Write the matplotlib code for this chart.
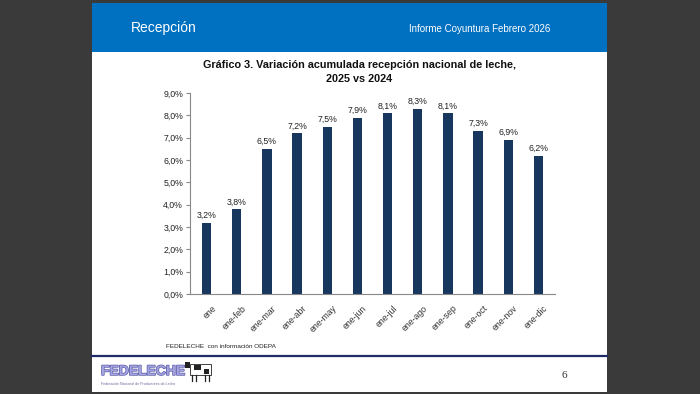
import matplotlib.pyplot as plt
import matplotlib.patches as patches
import matplotlib.patheffects as pe
import matplotlib.transforms as mtransforms

plt.rcParams['font.family'] = ['Liberation Sans', 'DejaVu Sans']

# data
periods = ["ene", "ene-feb", "ene-mar", "ene-abr", "ene-may", "ene-jun",
           "ene-jul", "ene-ago", "ene-sep", "ene-oct", "ene-nov", "ene-dic"]
variation = [3.2, 3.8, 6.5, 7.2, 7.5, 7.9, 8.1, 8.3, 8.1, 7.3, 6.9, 6.2]
y_ticks = [0, 1, 2, 3, 4, 5, 6, 7, 8, 9]

W, H = 700, 394
fig = plt.figure(figsize=(7, 3.94), dpi=100)
fig.patch.set_facecolor("#3a3a3a")


def fx(px):
    return px / W


def fy(py):
    return 1 - py / H


# slide background and header band
bg = fig.add_axes([0, 0, 1, 1], zorder=0)
bg.set_xlim(0, W)
bg.set_ylim(H, 0)
bg.axis("off")
bg.add_patch(patches.Rectangle((92, 3), 515, 389, facecolor="white", edgecolor="none"))
bg.add_patch(patches.Rectangle((92, 3), 515, 49, facecolor="#0070c0", edgecolor="none"))
bg.plot([92, 607], [356, 356], color="#1f2a6b", lw=1.6)

# small cow next to the logo (rough sketch)
bg.add_patch(patches.Rectangle((190, 364), 21, 11, facecolor="white", edgecolor="#222222", lw=0.6))
bg.add_patch(patches.Rectangle((194, 365), 7, 5, facecolor="#222222", edgecolor="none"))
bg.add_patch(patches.Rectangle((204, 369), 5, 5, facecolor="#222222", edgecolor="none"))
bg.add_patch(patches.Rectangle((185, 362), 5, 6, facecolor="#222222", edgecolor="none"))
for lx in (192, 196, 205, 209):
    bg.plot([lx, lx], [375, 381], color="#222222", lw=0.9)

fig.text(fx(131), fy(28), "Recepción", color="white", fontsize=10, va="center")
fig.text(fx(409), fy(29), "Informe Coyuntura Febrero 2026", color="white",
         fontsize=7, va="center")

fig.text(fx(359), fy(65), "Gráfico 3. Variación acumulada recepción nacional de leche,",
         fontsize=7.8, fontweight="bold", ha="center", va="center", color="#111111")
fig.text(fx(359), fy(79), "2025 vs 2024", fontsize=7.8, fontweight="bold",
         ha="center", va="center", color="#111111")

fig.text(fx(166), fy(346), "FEDELECHE  con información ODEPA", fontsize=4.6,
         va="center", color="#222222")
fig.text(fx(564), fy(375), "6", fontsize=8, family="Liberation Serif",
         ha="center", va="center", color="#333333")

# logo text
logo = fig.text(fx(101), fy(371), "FEDELECHE", fontsize=10, fontweight="bold",
                color="#a4a4e0", va="center")
logo.set_path_effects([pe.withStroke(linewidth=1.0, foreground="#5a5aa8")])
fig.text(fx(101), fy(384), "Federación Nacional de Productores de Leche",
         fontsize=2.6, color="#6a6aa0", va="center")

# chart
ax = fig.add_axes([fx(190), fy(294), fx(555) - fx(190), fy(93) - fy(294)], zorder=1)
ax.set_facecolor("white")
x = range(len(periods))
ax.bar(x, variation, width=0.31, color="#17375e")
for i, v in enumerate(variation):
    ax.text(i, v + 0.12, f"{v:.1f}%".replace(".", ","), ha="center", va="bottom",
            fontsize=6.3, color="#222222")

ax.set_ylim(0, 9)
ax.set_xlim(-0.55, len(periods) - 0.45)
ax.set_yticks(y_ticks)
ax.set_yticklabels([f"{t:.1f}%".replace(".", ",") for t in y_ticks], fontsize=6.3,
                   color="#222222")
ax.set_xticks(list(x))
ax.set_xticklabels(periods, rotation=45, ha="right", rotation_mode="anchor",
                   fontsize=6.3, color="#333333")
ax.tick_params(axis="x", length=0, pad=7)
ax.tick_params(axis="y", length=3, color="#888888", width=0.8, pad=2)
shift = mtransforms.ScaledTranslation(5 / 100, 0, fig.dpi_scale_trans)
for lab in ax.get_xticklabels():
    lab.set_transform(lab.get_transform() + shift)
for s in ["top", "right"]:
    ax.spines[s].set_visible(False)
ax.spines["left"].set_color("#888888")
ax.spines["bottom"].set_color("#888888")
ax.spines["left"].set_linewidth(0.8)
ax.spines["bottom"].set_linewidth(0.8)

fig.savefig("out.png", dpi=100, facecolor=fig.get_facecolor())
